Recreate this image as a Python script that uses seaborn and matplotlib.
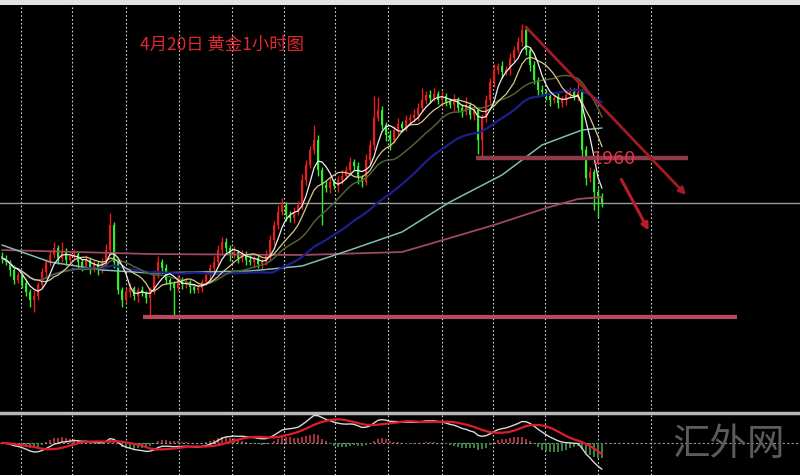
import numpy as np
import pandas as pd
import matplotlib
matplotlib.use("Agg")
import matplotlib.pyplot as plt
import seaborn as sns

# hourly candles (closes; open = previous close)
first_open = 1862
closes = [1860, 1856, 1848, 1838, 1843, 1835, 1826, 1818, 1822, 1833,
          1846, 1856, 1863, 1870, 1860, 1866, 1858, 1862, 1864, 1856,
          1852, 1858, 1850, 1854, 1848, 1856, 1868, 1893, 1856, 1828,
          1818, 1826, 1830, 1822, 1828, 1825, 1820, 1828, 1843, 1856,
          1850, 1838, 1834, 1830, 1838, 1834, 1836, 1831, 1828, 1830,
          1836, 1843, 1850, 1856, 1868, 1876, 1870, 1863, 1866, 1860,
          1864, 1858, 1856, 1860, 1854, 1856, 1862, 1878, 1893, 1906,
          1913, 1903, 1900, 1906, 1913, 1938, 1953, 1968, 1978, 1948,
          1933, 1930, 1936, 1932, 1938, 1942, 1948, 1956, 1952, 1940,
          1936, 1958, 1973, 2000, 2008, 1993, 1983, 1978, 1988, 1994,
          1990, 1998, 2000, 2003, 2010, 2018, 2023, 2020, 2024, 2018,
          2022, 2016, 2013, 2018, 2010, 2006, 2013, 2003, 2008, 1978,
          2000, 2018, 2036, 2048, 2052, 2046, 2048, 2060, 2068, 2076,
          2088, 2068, 2053, 2038, 2028, 2026, 2022, 2018, 2020, 2015,
          2018, 2023, 2026, 2022, 2026, 1968, 1940, 1946, 1926, 1922,
          1915]
# upper / lower shadow lengths
wick_up = [4, 3, 2, 5, 3, 2, 4, 3, 6, 3,
           4, 3, 5, 6, 3, 10, 4, 3, 5, 2,
           3, 5, 2, 4, 3, 4, 6, 12, 3, 2,
           3, 4, 5, 2, 3, 4, 2, 3, 5, 6,
           3, 4, 2, 3, 5, 3, 4, 2, 3, 4,
           3, 5, 4, 6, 5, 5, 4, 3, 6, 2,
           4, 3, 5, 2, 4, 3, 6, 5, 4, 7,
           7, 3, 4, 5, 4, 6, 5, 4, 15, 5,
           3, 4, 5, 3, 4, 6, 4, 5, 3, 4,
           3, 6, 5, 22, 13, 4, 3, 5, 4, 6,
           3, 5, 4, 6, 5, 12, 4, 5, 6, 3,
           5, 3, 4, 6, 3, 4, 8, 3, 5, 3,
           4, 5, 4, 6, 3, 5, 4, 5, 4, 5,
           6, 4, 3, 4, 3, 5, 3, 4, 3, 5,
           4, 3, 5, 4, 10, 3, 4, 5, 3, 4,
           3]
wick_dn = [5, 3, 6, 4, 3, 5, 4, 7, 12, 4,
           3, 5, 4, 3, 6, 4, 5, 3, 4, 6,
           5, 3, 6, 4, 5, 3, 4, 5, 6, 4,
           7, 3, 5, 4, 6, 3, 5, 17, 4, 3,
           5, 4, 6, 27, 3, 5, 4, 6, 3, 3,
           4, 3, 5, 4, 3, 5, 4, 6, 3, 5,
           4, 5, 3, 6, 4, 5, 3, 4, 5, 4,
           3, 6, 4, 5, 3, 4, 5, 3, 4, 6,
           40, 4, 5, 3, 6, 4, 3, 5, 4, 6,
           5, 3, 4, 5, 3, 4, 6, 10, 3, 5,
           4, 3, 5, 4, 6, 3, 4, 5, 3, 4,
           5, 4, 3, 6, 4, 5, 3, 4, 5, 14,
           17, 4, 3, 5, 4, 6, 3, 5, 4, 3,
           4, 5, 6, 4, 5, 3, 4, 6, 3, 5,
           4, 5, 3, 4, 5, 6, 7, 4, 18, 22,
           4]

# slow averages (need history before the visible window), sampled by candle
teal_idx = [0, 12, 25, 37, 50, 62, 75, 87, 100, 112, 125, 135, 145, 150]
teal_ma = [1873, 1856, 1848, 1845, 1846, 1847, 1852, 1868, 1886, 1916, 1943, 1973, 1988, 1990]
maroon_idx = [0, 37, 75, 100, 112, 123, 136, 144, 150]
maroon_ma = [1868, 1864, 1863, 1866, 1880, 1893, 1910, 1919, 1921]

# time grid (candle positions of the dotted separators)
grid_pos = [4.75, 17.5, 31, 44.25, 57.5, 70.5, 83.25, 96.5, 110, 122.75, 135.75, 149, 162.25]

# hand-drawn analysis objects
level_hi = 1960
level_hi_span = (118.5, 171.5)
level_lo = 1801
level_lo_span = (35.25, 183.75)
trend_start, trend_end = (130.5, 2093), (171.5, 1921)
drop_start, drop_end = (154.5, 1941), (162.0, 1885)

title = "4月20日 黄金1小时图"
watermark = "汇外网"

sns.set_style("dark")
plt.rcParams['font.family'] = ['Noto Sans CJK SC', 'DejaVu Sans']

df = pd.DataFrame({'close': closes, 'up': wick_up, 'dn': wick_dn})
df['i'] = np.arange(len(df))
df['open'] = df['close'].shift(1).fillna(first_open)
df['top'] = df[['open', 'close']].max(axis=1)
df['bot'] = df[['open', 'close']].min(axis=1)
df['high'] = df['top'] + df['up']
df['low'] = df['bot'] - df['dn']
df['ma5'] = df['close'].rolling(5, min_periods=1).mean()
df['ma10'] = df['close'].rolling(10, min_periods=1).mean()
df['ma20'] = df['close'].rolling(20, min_periods=1).mean()
df['ma40'] = df['close'].rolling(40, min_periods=1).mean()

ema12 = df['close'].ewm(span=12, adjust=False).mean()
ema26 = df['close'].ewm(span=26, adjust=False).mean()
df['macd'] = ema12 - ema26
df['signal'] = df['macd'].rolling(9, min_periods=1).mean()
df['hist'] = df['macd'] - df['signal']

fig = plt.figure(figsize=(8, 4.75), dpi=100, facecolor='black')

bar = fig.add_axes([0, 470 / 475, 1, 5 / 475], facecolor='#e2e2e2')
bar.set_xticks([])
bar.set_yticks([])
for s in bar.spines.values():
    s.set_visible(False)

ax = fig.add_axes([0, 62 / 475, 1, 408 / 475], facecolor='black')
ax2 = fig.add_axes([0, 0, 1, 62 / 475], facecolor='black')

up_col, dn_col = '#ec1c1c', '#2ef02e'
colors = np.where(df['close'] >= df['open'], up_col, dn_col)
ax.vlines(df['i'], df['low'], df['high'], colors=colors, lw=1, zorder=2)
ax.bar(df['i'], (df['top'] - df['bot']).clip(lower=0.8), bottom=df['bot'],
       width=0.7, color=colors, edgecolor='none', linewidth=0, zorder=2)

sns.lineplot(x=maroon_idx, y=maroon_ma, ax=ax, color='#9c4a5c', lw=1.3, zorder=3)
sns.lineplot(x=teal_idx, y=teal_ma, ax=ax, color='#82bdb4', lw=1.1, zorder=3)
sns.lineplot(x=df['i'].values, y=df['ma40'].values, ax=ax, color='#1e1e8c', lw=1.6, zorder=3)
sns.lineplot(x=df['i'].values, y=df['ma20'].values, ax=ax, color='#4f6232', lw=1.1, zorder=3)
sns.lineplot(x=df['i'].values, y=df['ma10'].values, ax=ax, color='#dcc88c', lw=0.9, zorder=4)
sns.lineplot(x=df['i'].values, y=df['ma5'].values, ax=ax, color='#eeeeee', lw=0.9, zorder=4)

# bid line at the last close
ax.axhline(df['close'].iloc[-1], color='#9a9a9a', lw=1, zorder=1)

ax.hlines(level_hi, *level_hi_span, color='#8e3a48', lw=3.2, zorder=5)
ax.hlines(level_lo, *level_lo_span, color='#b84a5c', lw=3, zorder=5)
ax.text(level_hi_span[0] + 28.7, level_hi - 1.5, str(level_hi), color='#e8344a',
        fontsize=12.5, va='center', ha='left', family=['DejaVu Sans'], zorder=6)
ax.annotate('', xy=trend_end, xytext=trend_start,
            arrowprops=dict(arrowstyle='-|>', color='#a11c24', lw=2, mutation_scale=10), zorder=6)
ax.annotate('', xy=drop_end, xytext=drop_start,
            arrowprops=dict(arrowstyle='-|>', color='#b81c28', lw=2.2, mutation_scale=10), zorder=6)

ax.set_xlim(-0.5, 199.5)
ax.set_ylim(1705, 2113)

# MACD panel
hcol = np.where(df['hist'] >= 0, '#a8303a', '#3a8040')
ax2.bar(df['i'], df['hist'], width=0.35, color=hcol, edgecolor='none', linewidth=0, zorder=2)
ax2.axhline(0, color='#9a9a9a', lw=0.8, ls=(0, (2, 2)), zorder=1)
sns.lineplot(x=df['i'].values, y=df['macd'].values, ax=ax2, color='#d8d8d8', lw=1, zorder=3)
sns.lineplot(x=df['i'].values, y=df['signal'].values, ax=ax2, color='#e01c2c', lw=1.6, zorder=3)
ax2.set_xlim(-0.5, 199.5)
ax2.set_ylim(-32, 30)

for a in (ax, ax2):
    a.set_xticks(grid_pos)
    a.set_yticks([])
    a.grid(axis='x', color='#d8d8d8', lw=0.8, ls=(0, (1.5, 2)))
    a.tick_params(length=0, labelbottom=False, labelleft=False)
    a.set_xlabel('')
    a.set_ylabel('')
    for s in a.spines.values():
        s.set_visible(False)
ax2.spines['top'].set_visible(True)
ax2.spines['top'].set_color('#b8b8b8')
ax2.spines['top'].set_linewidth(2.5)

fig.text(140 / 800, 1 - 45 / 475, title, color='#e02830', fontsize=12.5,
         ha='left', va='center')
fig.text(672 / 800, 1 - 445 / 475, watermark, color='#5c5c5c', fontsize=27,
         ha='left', va='center', family=['Noto Sans CJK SC'], fontweight='light')

fig.savefig('out.png', dpi=100, facecolor='black')
